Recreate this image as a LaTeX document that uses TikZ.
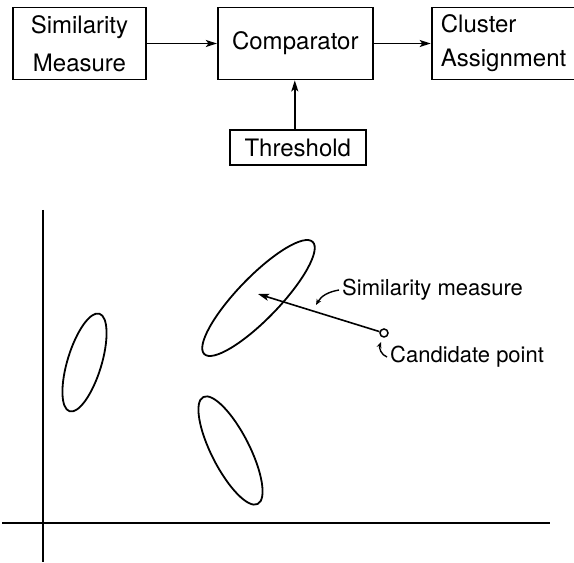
\documentclass[tikz,border=0pt]{standalone}
\usepackage{fontspec}
\setmainfont{TeX Gyre Heros}
\usetikzlibrary{arrows.meta,positioning}

\tikzset{
  blockbox/.style={draw, line width=1.8pt, minimum height=72pt, inner sep=0pt, font=\fontsize{24}{34}\selectfont},
  flow/.style={line width=1.6pt, -{Stealth[length=11pt,width=7pt,inset=2.5pt]}},
  cluster/.style={line width=1.8pt},
  axisline/.style={line width=1.8pt},
  tag/.style={font=\fontsize{22}{26}\selectfont, inner sep=0pt},
  leader/.style={line width=1.4pt, -{Stealth[length=6pt,width=5pt]}}
}

\begin{document}
\begin{tikzpicture}[x=1pt, y=1pt]
    \useasboundingbox (0,0) rectangle (574,563);

    % block diagram
    \node[blockbox, minimum width=133pt, align=center] (sim) at (79.5,519.5) {Similarity\\[4pt]Measure};
    \node[blockbox, minimum width=155pt, right=70pt of sim] (comp) {Comparator};
    \node[blockbox, minimum width=144pt, align=left, right=57pt of comp] (clus) {Cluster\\Assignment};
    \node[blockbox, minimum width=136pt, minimum height=35pt, below=49pt of comp, xshift=2.5pt] (thr) {Threshold};

    \draw[flow] (sim) -- (comp);
    \draw[flow] (comp) -- (clus);
    \draw[flow] ([xshift=-3pt]thr.north) -- ([xshift=-3pt]thr.north |- comp.south);

    % pattern space
    \draw[axisline] (43,353) -- (43,1);
    \draw[axisline] (2,40) -- (550,40);

    \draw[cluster, rotate around={73:(84.5,200.5)}] (84.5,200.5) ellipse (51 and 17);
    \draw[cluster, rotate around={46:(258.5,265)}] (258.5,265) ellipse (78 and 21);
    \draw[cluster, rotate around={117:(230.5,112.5)}] (230.5,112.5) ellipse (60 and 19);

    \coordinate (ctr) at (258,269);
    \node[circle, draw, line width=1.5pt, minimum size=8pt, inner sep=0pt] (cand) at (384,230) {};
    \draw[flow] (cand) -- (ctr);

    \node[tag, anchor=west] (simlbl) at (342,273) {Similarity measure};
    \node[tag, anchor=west] (candlbl) at (390,206) {Candidate point};
    \coordinate (simtip) at (316,258);
    \coordinate (candtip) at (381,221);
    \draw[leader] ([xshift=-3pt]simlbl.west) to[out=190, in=60] (simtip);
    \draw[leader] ([xshift=-3pt]candlbl.west) to[out=160, in=250] (candtip);
\end{tikzpicture}
\end{document}
